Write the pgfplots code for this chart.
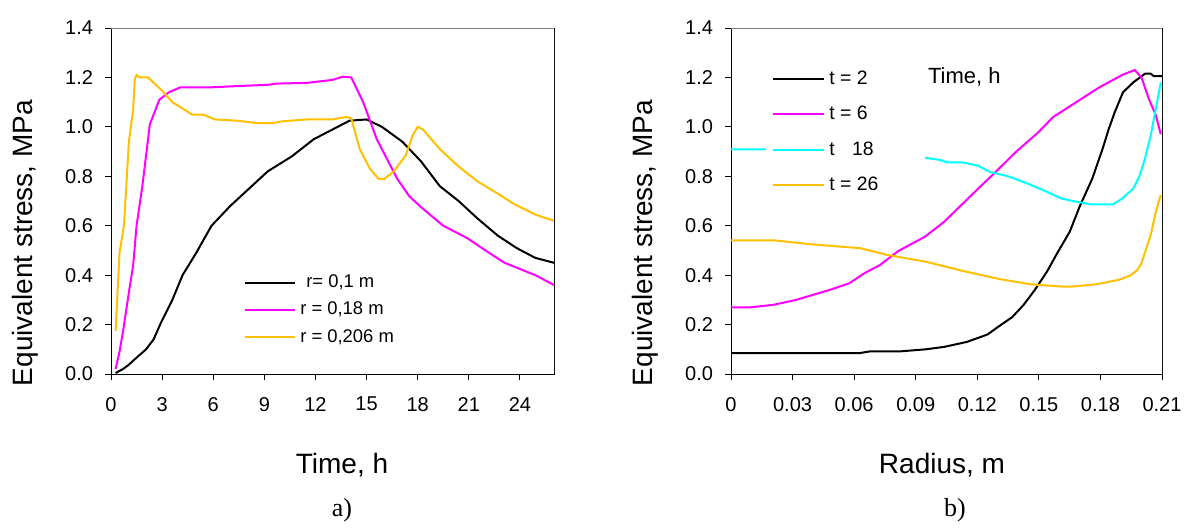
\documentclass[border=0pt]{standalone}
\usepackage{fontspec}
\setmainfont{Liberation Sans}
\newfontfamily\serifa{Liberation Serif}
\usepackage{pgfplots}
\pgfplotsset{compat=1.18}
\definecolor{cmag}{RGB}{255,0,255}
\definecolor{ccyan}{RGB}{0,255,255}
\definecolor{cgold}{RGB}{255,192,0}
\definecolor{cframe}{RGB}{128,128,128}

\pgfplotsset{stressax/.style={scale only axis,height=173pt,ymin=0,ymax=1.4,
  ytick={0,0.2,0.4,0.6,0.8,1.0,1.2,1.4},
  yticklabel style={/pgf/number format/fixed,/pgf/number format/fixed zerofill,/pgf/number format/precision=1,xshift=-2.5pt},
  /pgf/number format/assume math mode=true,
  tick label style={font=\fontsize{10}{12}\selectfont},
  xticklabel style={yshift=-5pt},
  tick pos=left,tick align=outside,major tick length=3pt,
  axis line style={black,line width=0.5pt},tick style={black,line width=0.5pt},
  every axis plot/.append style={line width=1pt},
  legend cell align=left}}

\begin{document}
\begin{tikzpicture}
\path[use as bounding box] (0,0) rectangle (596.5pt,263.5pt);

\begin{axis}[stressax,at={(55.5pt,76.5pt)},anchor=south west,width=221.5pt,
  xmin=0,xmax=26,xtick={0,3,6,9,12,15,18,21,24},
  legend image code/.code={\draw[#1] (0,0)--(25pt,0);},
  legend style={at={(axis cs:7.8,0.42)},anchor=north west,draw=none,fill=none,
    font=\fontsize{9.2}{11}\selectfont,row sep=1.8pt,inner sep=0pt}]
\addplot[black] coordinates {(0.27,0.004)(0.7,0.02)(1.0,0.035)(1.4,0.06)(2.06,0.10)(2.5,0.14)(2.95,0.21)(3.6,0.30)(4.2,0.40)(5.0,0.49)(5.9,0.60)(7.0,0.68)(8.1,0.75)(9.2,0.82)(10.6,0.88)(11.9,0.95)(13.3,1.0)(14.0,1.025)(15.0,1.03)(15.9,1.0)(17.1,0.94)(18.2,0.86)(19.3,0.76)(20.4,0.70)(21.5,0.63)(22.7,0.56)(23.8,0.51)(24.9,0.47)(26,0.45)};
\addlegendentry{\hspace{3pt}r= 0,1 m}
\addplot[cmag] coordinates {(0.27,0.02)(0.5,0.09)(0.7,0.17)(1.05,0.33)(1.3,0.44)(1.5,0.60)(1.84,0.76)(2.28,1.01)(2.84,1.11)(3.4,1.14)(4.07,1.16)(5.9,1.16)(7.4,1.165)(9.2,1.17)(9.7,1.175)(11.5,1.178)(13.0,1.19)(13.6,1.203)(14.1,1.20)(14.8,1.10)(15.6,0.95)(16.2,0.87)(16.8,0.79)(17.5,0.72)(18.2,0.675)(19.5,0.60)(20.9,0.55)(22.2,0.49)(23.1,0.45)(24.0,0.425)(24.9,0.40)(26,0.36)};
\addlegendentry{r = 0,18 m}
\addplot[cgold] coordinates {(0.27,0.175)(0.5,0.49)(0.76,0.60)(1.05,0.94)(1.3,1.07)(1.39,1.19)(1.5,1.21)(1.7,1.20)(2.17,1.20)(2.95,1.15)(3.6,1.10)(4.3,1.07)(4.75,1.05)(5.4,1.05)(6.1,1.03)(7.4,1.025)(8.6,1.015)(9.45,1.015)(10.1,1.023)(11.5,1.03)(13.0,1.03)(13.8,1.04)(14.1,1.035)(14.6,0.91)(15.2,0.83)(15.7,0.79)(16.05,0.79)(16.6,0.82)(17.3,0.885)(17.7,0.965)(18.0,1.0)(18.3,0.99)(19.3,0.91)(20.4,0.84)(21.5,0.78)(22.7,0.73)(23.6,0.69)(24.9,0.645)(26,0.62)};
\addlegendentry{r = 0,206 m}
\draw[cframe,line width=0.5pt] (rel axis cs:0,1)--(rel axis cs:1,1)--(rel axis cs:1,0);
\end{axis}

\begin{axis}[stressax,at={(365.5pt,76.5pt)},anchor=south west,width=215.5pt,
  xmin=0,xmax=0.21,xtick={0,0.03,0.06,0.09,0.12,0.15,0.18,0.21},
  xticklabel style={/pgf/number format/fixed,/pgf/number format/precision=2},
  scaled x ticks=false,
  legend image code/.code={\draw[#1] (0,0)--(25.5pt,0);},
  legend style={at={(axis cs:0.017,1.27)},anchor=north west,draw=none,fill=white,
    font=\fontsize{9.7}{11}\selectfont,row sep=5.5pt,inner sep=3pt}]
\addplot[black] coordinates {(0,0.085)(0.063,0.085)(0.068,0.092)(0.083,0.092)(0.095,0.10)(0.104,0.11)(0.115,0.13)(0.125,0.16)(0.13,0.19)(0.137,0.23)(0.1426,0.28)(0.148,0.34)(0.154,0.415)(0.159,0.49)(0.165,0.575)(0.170,0.68)(0.176,0.79)(0.181,0.91)(0.184,0.99)(0.187,1.06)(0.191,1.14)(0.196,1.18)(0.2017,1.215)(0.2045,1.215)(0.206,1.205)(0.21,1.205)};
\addlegendentry{\makebox[43pt][l]{t = 2}}
\addplot[cmag] coordinates {(0,0.27)(0.0096,0.27)(0.0207,0.28)(0.0318,0.30)(0.041,0.323)(0.048,0.34)(0.0576,0.367)(0.065,0.408)(0.0724,0.44)(0.0816,0.498)(0.0946,0.556)(0.104,0.617)(0.113,0.69)(0.1204,0.75)(0.128,0.81)(0.139,0.90)(0.150,0.98)(0.157,1.04)(0.172,1.12)(0.1795,1.16)(0.1906,1.21)(0.1967,1.23)(0.20,1.20)(0.2035,1.115)(0.207,1.047)(0.2094,0.97)};
\addlegendentry{t = 6}
\addplot[ccyan] coordinates {(0,0.909)(0.017,0.909)(0.04,0.905)(0.07,0.895)(0.0946,0.875)(0.102,0.866)(0.1056,0.856)(0.113,0.856)(0.1204,0.843)(0.126,0.818)(0.135,0.80)(0.1444,0.771)(0.1537,0.738)(0.161,0.71)(0.1684,0.697)(0.1758,0.686)(0.186,0.686)(0.1906,0.71)(0.196,0.75)(0.199,0.80)(0.2017,0.872)(0.2045,0.966)(0.207,1.074)(0.2094,1.18)};
\addlegendentry{t\hspace{0.9em}18}
\addplot[cgold] coordinates {(0,0.541)(0.0207,0.541)(0.039,0.525)(0.063,0.509)(0.076,0.482)(0.0946,0.455)(0.113,0.417)(0.131,0.384)(0.146,0.363)(0.161,0.354)(0.1666,0.354)(0.178,0.363)(0.189,0.381)(0.1945,0.398)(0.198,0.421)(0.2,0.448)(0.2045,0.563)(0.207,0.657)(0.2094,0.724)};
\addlegendentry{t = 26}
\node[font=\fontsize{11}{13}\selectfont] at (axis cs:0.1137,1.2) {Time, h};
\draw[cframe,line width=0.5pt] (rel axis cs:0,1)--(rel axis cs:1,1)--(rel axis cs:1,0);
\end{axis}

\node[rotate=90,font=\fontsize{14}{16}\selectfont] at (12.5pt,142pt) {Equivalent stress, MPa};
\node[rotate=90,font=\fontsize{14}{16}\selectfont] at (322.5pt,142pt) {Equivalent stress, MPa};
\node[font=\fontsize{14}{16}\selectfont] at (171pt,31pt) {Time, h};
\node[font=\fontsize{14}{16}\selectfont] at (471pt,31pt) {Radius, m};
\node[font=\serifa\fontsize{13}{15}\selectfont] at (171pt,8.5pt) {a)};
\node[font=\serifa\fontsize{13}{15}\selectfont] at (477.5pt,8.5pt) {b)};
\end{tikzpicture}
\end{document}
